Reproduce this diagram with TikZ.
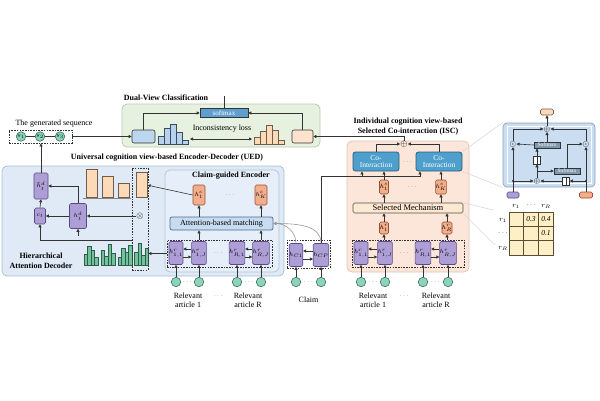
\documentclass[tikz,border=0pt]{standalone}
\usepackage{fontspec}
\setmainfont{Liberation Serif}
\usetikzlibrary{arrows.meta,calc}
\definecolor{linec}{HTML}{333333}
\definecolor{purpf}{HTML}{AD9FD6}
\definecolor{purpd}{HTML}{5B4A8A}
\definecolor{tealf}{HTML}{8CD3BC}
\definecolor{teald}{HTML}{3C7062}
\definecolor{uedf}{HTML}{DFEAF6}
\definecolor{uedd}{HTML}{A9BDD2}
\definecolor{cgf}{HTML}{E6EFF9}
\definecolor{cgd}{HTML}{B3C4D6}
\definecolor{orgf}{HTML}{F2AD8B}
\definecolor{orgd}{HTML}{9C4F30}
\definecolor{obarf}{HTML}{FCDAB8}
\definecolor{obard}{HTML}{6E5C4C}
\definecolor{gbarf}{HTML}{72C29D}
\definecolor{gbard}{HTML}{2E5E48}
\definecolor{bbarf}{HTML}{B8D1ED}
\definecolor{bbard}{HTML}{3A4B5E}
\definecolor{attf}{HTML}{C7DBF1}
\definecolor{attd}{HTML}{4C6C8C}
\definecolor{cif}{HTML}{4E9FCC}
\definecolor{cid}{HTML}{2D5C7E}
\definecolor{smmf}{HTML}{FDE8D4}
\definecolor{smmd}{HTML}{5E4C3C}
\definecolor{iscf}{HTML}{FBE6D9}
\definecolor{iscd}{HTML}{E0C3B2}
\definecolor{dvf}{HTML}{E7F1E0}
\definecolor{dvd}{HTML}{B5C8AB}
\definecolor{softf}{HTML}{5E9FD0}
\definecolor{dvlf}{HTML}{BDD6F0}
\definecolor{dvrf}{HTML}{FDE3CE}
\definecolor{pnlf}{HTML}{CADDF1}
\definecolor{pnld}{HTML}{8BA1BA}
\definecolor{psmf}{HTML}{7F97AF}
\definecolor{matf}{HTML}{FDEFC6}
\definecolor{matd}{HTML}{5C4C32}
\definecolor{zoomc}{HTML}{D8D8D8}
\begin{document}
\begin{tikzpicture}[x=1pt,y=-1pt,
  ln/.style={draw=linec, line width=0.6pt},
  arr/.style={ln, -{Triangle[length=3pt,width=3pt]}},
  darr/.style={ln, {Triangle[length=3pt,width=3pt]}-{Triangle[length=3pt,width=3pt]}},
  pbx/.style={draw=purpd, fill=purpf, rounded corners=1.5pt, minimum width=13pt, minimum height=23pt, inner sep=0pt, line width=0.6pt, font=\fontsize{6.5}{7}\selectfont},
  obx/.style={draw=orgd, fill=orgf, rounded corners=1.5pt, inner sep=0pt, line width=0.6pt, font=\fontsize{6}{6.5}\selectfont},
  tc/.style={circle, draw=teald, fill=tealf, minimum size=9.5pt, inner sep=0pt, line width=0.6pt},
  dbx/.style={draw=linec, dash pattern=on 1.6pt off 1.1pt, line width=0.7pt, inner sep=0pt},
  lbl/.style={font=\fontsize{8}{9}\selectfont, align=center, inner sep=0pt},
  ttl/.style={font=\bfseries\fontsize{8}{10}\selectfont, align=center, inner sep=0pt},
  dots/.style={font=\fontsize{6}{6}\selectfont, inner sep=0pt, text=linec!80},
  obar/.style={draw=obard, fill=obarf, line width=0.6pt, inner sep=0pt, anchor=south west},
  gbar/.style={draw=gbard, fill=gbarf, line width=0.4pt},
  bbar/.style={draw=bbard, fill=bbarf, line width=0.5pt},
  hbar/.style={draw=obard, fill=obarf, line width=0.5pt},
  bg/.style={rounded corners=5pt, inner sep=0pt, line width=0.7pt},
  zl/.style={draw=zoomc, line width=0.6pt},
  sym/.style={inner sep=0pt, font=\fontsize{9}{9}\selectfont},
  psm/.style={draw=linec, fill=psmf, minimum width=26pt, minimum height=6.5pt, inner sep=0pt, font=\fontsize{5.5}{5.5}\selectfont, text=white, line width=0.5pt},
  vbx/.style={draw=linec, fill=white, minimum width=7pt, minimum height=8pt, inner sep=0pt, line width=0.5pt,
     path picture={\draw[linec, line width=0.5pt] (path picture bounding box.north) -- (path picture bounding box.south);}},
  mlbl/.style={inner sep=0pt, font=\fontsize{7.5}{8}\selectfont},
  cibx/.style={draw=cid, fill=cif, rounded corners=2.5pt, minimum width=46pt, minimum height=19pt, inner sep=0pt, line width=0.8pt, align=center, text=white, font=\fontsize{7.5}{7.5}\selectfont},
]
\useasboundingbox (0,0) rectangle (600,400);

% ================= backgrounds
\node[bg, draw=dvd, fill=dvf, minimum width=198pt, minimum height=43pt] (dv) at (221,125.5) {};
\node[bg, draw=uedd, fill=uedf, minimum width=282pt, minimum height=110pt] (ued) at (143,221) {};
\node[bg, draw=cgd, fill=cgf, minimum width=114pt, minimum height=102pt] (cge) at (222,221) {};
\node[bg, draw=iscd, fill=iscf, minimum width=122pt, minimum height=131pt] (isc) at (408,206.5) {};
\node[bg, draw=pnld, fill=pnlf, rounded corners=4pt, minimum width=92pt, minimum height=64pt] (pnl) at (549,155) {};
\node[draw=white, line width=0.8pt, inner sep=0pt, minimum width=84pt, minimum height=57pt] (pnlin) at (549,155) {};

% ================= titles
\node[ttl] (dvt) at (166,98) {Dual-View Classification};
\node[ttl] (uedt) at (167,158) {Universal cognition view-based Encoder-Decoder (UED)};
\node[ttl] (cget) at (231,176) {Claim-guided Encoder};
\node[ttl] (isct) at (408,127) {Individual cognition view-based\\Selected Co-interaction (ISC)};
\node[ttl] (hadt) at (41,261) {Hierarchical\\Attention Decoder};

% ================= generated sequence
\node[lbl] (gent) at (54,124) {The generated sequence};
\node[dbx, minimum width=63pt, minimum height=13pt] (genb) at (40.5,136.5) {};
\node[tc, minimum size=9.5pt] (g1) at (21,136.5) {\fontsize{4}{4}\selectfont$y_1$};
\node[tc, minimum size=9.5pt] (g2) at (40,136.5) {\fontsize{4}{4}\selectfont$y_2$};
\node[tc, minimum size=9.5pt] (g3) at (60,136.5) {\fontsize{4}{4}\selectfont$y_3$};
\draw[ln] (g1) -- (g2);
\draw[ln] (g2) -- (g3);

% ================= dual-view classification
\node[draw=linec, fill=dvlf, rounded corners=2pt, minimum width=23pt, minimum height=13pt, inner sep=0pt, line width=0.6pt] (dvl) at (143.5,136.5) {};
\node[draw=linec, fill=dvrf, rounded corners=2pt, minimum width=21pt, minimum height=13pt, inner sep=0pt, line width=0.6pt] (dvr) at (302.5,136.5) {};
\node[draw=linec, fill=softf, minimum width=48pt, minimum height=8.5pt, inner sep=0pt, line width=0.6pt, text=white, font=\fontsize{7}{7}\selectfont] (soft) at (224,113) {softmax};
\node[lbl] (incl) at (222,128.5) {Inconsistency loss};
\foreach \h [count=\i from 0] in {8,16,20,12,4} {\draw[bbar] ({158+6*\i},144) rectangle ++(6,-\h);}
\foreach \h [count=\i from 0] in {7,13,19,14,4} {\draw[hbar] ({254+6*\i},144) rectangle ++(6,-\h);}
\coordinate (bhr) at (190,139);
\coordinate (ohl) at (252,139);
\draw[darr] (bhr) -- (ohl);
\draw[arr] (genb.east) -- (dvl.west);
\draw[arr] (dvl.north) |- (soft.west);
\draw[arr] (dvr.north) |- (soft.east);
\coordinate (dvo) at (224,96);
\draw[ln] (soft.north) -- (dvo);

% ================= UED: decoder part
\node[obar, minimum width=11pt, minimum height=28pt] (ob1) at (86,198) {};
\node[obar, minimum width=11pt, minimum height=21pt] (ob2) at (102,198) {};
\node[obar, minimum width=11pt, minimum height=14pt] (ob3) at (118,198) {};
\node[obar, minimum width=11pt, minimum height=25pt] (ob4) at (136,198) {};
\draw[ln, draw=linec!60] (83,198) -- (131,198);
\foreach \h [count=\i from 0] in {11,19,15,8} {\draw[gbar] ({84+3.5*\i},265) rectangle ++(3.2,-\h);}
\foreach \h [count=\i from 0] in {15,9,21,12} {\draw[gbar] ({101+3.5*\i},265) rectangle ++(3.2,-\h);}
\foreach \h [count=\i from 0] in {8,17,13,20} {\draw[gbar] ({118+3.5*\i},265) rectangle ++(3.2,-\h);}
\foreach \h [count=\i from 0] in {13,22,10,17} {\draw[gbar] ({134.5+3.5*\i},265) rectangle ++(3.2,-\h);}
\node[dbx, minimum width=16pt, minimum height=102pt] (col) at (140,219) {};
\node[sym] (otm) at (140,216) {$\otimes$};
\node[pbx, minimum width=17pt, minimum height=25pt] (hdt) at (78,216) {$h^{d}_{t}$};
\node[pbx, minimum width=11pt, minimum height=16pt] (ct) at (40,216) {$c_t$};
\node[pbx, minimum width=14pt, minimum height=26pt] (htd) at (41,186) {$\tilde{h}^{d}_{t}$};
\draw[arr] (otm.west) -- (hdt.east);
\draw[arr] (hdt.west) -- (ct.east);
\draw[arr] (hdt.north) |- (htd.east);
\draw[arr] (ct.north) -- (htd.south);
\draw[arr] (htd.north) -- (htd.north |- genb.south);
\coordinate (hdin) at (78,236);
\draw[arr] (hdin) -- (hdt.south);
\coordinate (ctin) at (132,240);
\draw[arr] (ctin) -| (ct.south);

% ================= UED: claim-guided encoder
\node[obx, minimum width=12pt, minimum height=20pt] (hc1) at (199,195) {$h^{c}_{1}$};
\node[obx, minimum width=12pt, minimum height=20pt] (hcK) at (261,195) {$h^{c}_{K}$};
\node[dots] (hcd) at (230,195) {$\cdots$};
\node[draw=attd, fill=attf, rounded corners=2pt, minimum width=103pt, minimum height=13pt, inner sep=0pt, line width=0.7pt, font=\fontsize{8}{8}\selectfont] (attn) at (221.5,223.5) {Attention-based matching};
\draw[arr] (hc1.south |- attn.north) -- (hc1.south);
\draw[arr] (hcK.south |- attn.north) -- (hcK.south);
\node[dbx, minimum width=105pt, minimum height=27pt] (hrb) at (219.5,253.5) {};
\node[pbx] (u11) at (176,253) {$h^{r}_{1,1}$};
\node[pbx] (u1J) at (199,253) {$h^{r}_{1,J}$};
\node[pbx] (uR1) at (237,253) {$h^{r}_{R,1}$};
\node[pbx] (uRJ) at (261,253) {$h^{r}_{R,J}$};
\node[dots] (ud) at (218,253) {$\cdots$};
\draw[arr] ($(u1J.west)+(0,-4)$) -- ($(u11.east)+(0,-4)$);
\draw[arr] ($(u11.east)+(0,4)$) -- ($(u1J.west)+(0,4)$);
\draw[arr] ($(uRJ.west)+(0,-4)$) -- ($(uR1.east)+(0,-4)$);
\draw[arr] ($(uR1.east)+(0,4)$) -- ($(uRJ.west)+(0,4)$);
\draw[arr] (u1J.north |- hrb.north) -- (u1J.north |- attn.south);
\draw[arr] (uRJ.north |- hrb.north) -- (uRJ.north |- attn.south);
\draw[arr] (hrb.west) -- (col.east |- hrb.west);
\draw[arr] (hc1.west) -- (ob4.east);
\node[tc] (a11) at (176,282) {};
\node[tc] (a1J) at (199,282) {};
\node[tc] (aR1) at (237,282) {};
\node[tc] (aRJ) at (261,282) {};
\node[dots] (ad1) at (187.5,282) {$\cdots$};
\node[dots] (ad2) at (249,282) {$\cdots$};
\foreach \a/\b in {a11/u11,a1J/u1J,aR1/uR1,aRJ/uRJ} {\draw[arr] (\a) -- (\b);}
\node[lbl] (rl1) at (188,300) {Relevant\\article 1};
\node[dots] (rld) at (218,296) {$\cdots$};
\node[lbl] (rlR) at (248,300) {Relevant\\article R};

% ================= claim
\node[dbx, minimum width=43pt, minimum height=28pt] (clb) at (308.5,254) {};
\node[pbx] (c1) at (296,255) {$h_{C1}$};
\node[pbx] (cP) at (321,255) {$h_{CP}$};
\draw[arr] ($(cP.west)+(0,-4)$) -- ($(c1.east)+(0,-4)$);
\draw[arr] ($(c1.east)+(0,4)$) -- ($(cP.west)+(0,4)$);
\node[tc] (ca1) at (296,282) {};
\node[tc] (caP) at (321,282) {};
\node[dots] (cad) at (308.5,282) {$\cdots$};
\draw[arr] (ca1) -- (c1);
\draw[arr] (caP) -- (cP);
\node[lbl] (clt) at (308.5,300) {Claim};
\draw[arr, draw=gray!80] (c1.north) .. controls (296,232) and (286,223.5) .. (attn.east);
\draw[arr, draw=gray!80] (cP.north) .. controls (321,226) and (300,223.5) .. (attn.east);

% ================= ISC
\node[sym] (oplus) at (404,144) {$\oplus$};
\node[cibx] (ci1) at (376,161.5) {Co-\\Interaction};
\node[cibx] (ci2) at (439,161.5) {Co-\\Interaction};
\node[dots] (cidd) at (407.5,162) {$\cdots$};
\draw[arr] (ci1.north) |- (oplus.west);
\draw[arr] (ci2.north) |- (oplus.east);
\draw[arr] (oplus.north) |- (dvr.east);
\node[obx, minimum width=9pt, minimum height=14pt] (hs1) at (384,187) {$h^{s}_{1}$};
\node[obx, minimum width=9pt, minimum height=14pt] (hsK) at (441,187) {$h^{s}_{K}$};
\node[dots] (hsd) at (412,187) {$\cdots$};
\node[draw=smmd, fill=smmf, rounded corners=1.5pt, minimum width=110pt, minimum height=10pt, inner sep=0pt, line width=0.6pt, font=\fontsize{8.5}{8.5}\selectfont] (sm) at (408,208) {Selected Mechanism};
\draw[arr] (hs1.north) -- (hs1.north |- ci1.south);
\draw[arr] (hsK.north) -- (hsK.north |- ci2.south);
\draw[arr] (hs1.south |- sm.north) -- (hs1.south);
\draw[arr] (hsK.south |- sm.north) -- (hsK.south);
\node[obx, minimum width=9pt, minimum height=12pt] (hr1) at (384,228) {$h^{r}_{1}$};
\node[obx, minimum width=9pt, minimum height=12pt] (hrR) at (447,228) {$h^{r}_{R}$};
\draw[arr] (hr1.north) -- (hr1.north |- sm.south);
\draw[arr] (hrR.north) -- (hrR.north |- sm.south);
\node[dbx, minimum width=112pt, minimum height=27pt] (isd) at (408,253.5) {};
\draw[arr] (hr1.south |- isd.north) -- (hr1.south);
\draw[arr] (hrR.south |- isd.north) -- (hrR.south);
\node[pbx] (v11) at (361,253) {$h^{r}_{1,1}$};
\node[pbx] (v1J) at (385,253) {$h^{r}_{1,J}$};
\node[pbx] (vR1) at (423,253) {$h^{r}_{R,1}$};
\node[pbx] (vRJ) at (448,253) {$h^{r}_{R,J}$};
\node[dots] (vd) at (404,253) {$\cdots$};
\draw[arr] ($(v1J.west)+(0,-4)$) -- ($(v11.east)+(0,-4)$);
\draw[arr] ($(v11.east)+(0,4)$) -- ($(v1J.west)+(0,4)$);
\draw[arr] ($(vRJ.west)+(0,-4)$) -- ($(vR1.east)+(0,-4)$);
\draw[arr] ($(vR1.east)+(0,4)$) -- ($(vRJ.west)+(0,4)$);
\node[tc] (b11) at (361,282) {};
\node[tc] (b1J) at (385,282) {};
\node[tc] (bR1) at (423,282) {};
\node[tc] (bRJ) at (448,282) {};
\node[dots] (bd1) at (373,282) {$\cdots$};
\node[dots] (bd2) at (435.5,282) {$\cdots$};
\foreach \a/\b in {b11/v11,b1J/v1J,bR1/vR1,bRJ/vRJ} {\draw[arr] (\a) -- (\b);}
\node[lbl] (sl1) at (373,300) {Relevant\\article 1};
\node[dots] (sld) at (404,296) {$\cdots$};
\node[lbl] (slR) at (436,300) {Relevant\\article R};

% claim -> co-interaction
\coordinate (clturn) at (321,176.5);
\coordinate (ci1in) at ($(ci1.south)+(-14,0)$);
\coordinate (ci2in) at ($(ci2.south)+(-19,0)$);
\draw[ln] (cP.north) -- (clturn) -- (ci2in |- clturn);
\draw[arr] (ci1in |- clturn) -- (ci1in);
\draw[arr] (ci2in |- clturn) -- (ci2in);

% ================= zoom lines
\coordinate (zm1) at (493,210);
\coordinate (zm2) at (495,245);
\draw[zl] (ci2.north east) -- (pnl.north west);
\draw[zl] (ci2.south east) -- (pnl.south west);
\draw[zl] (sm.north east) -- (zm1);
\draw[zl] (sm.south east) -- (zm2);

% ================= right panel
\node[obx, fill=obarf, draw=obard, minimum width=13pt, minimum height=6pt] (orT) at (547,112) {};
\node[sym, font=\fontsize{8}{8}\selectfont] (op) at (547,129) {$\oplus$};
\node[sym, font=\fontsize{8}{8}\selectfont] (odL) at (513,144) {$\odot$};
\node[sym, font=\fontsize{8}{8}\selectfont] (odR) at (586,144) {$\odot$};
\node[psm] (sm1) at (547,145) {Softmax};
\node[vbx] (vb1) at (537,160) {};
\node[psm] (sm2) at (567,171) {Softmax};
\node[sym, font=\fontsize{8}{8}\selectfont] (odB) at (537,181) {$\oplus$};
\node[vbx] (vb2) at (566,181) {};
\node[pbx, minimum width=12pt, minimum height=6pt] (pL) at (513,195) {};
\node[obx, fill=orgf, minimum width=13pt, minimum height=6pt] (oR) at (586,195) {};
\draw[arr] (op.north) -- (orT.south);
\draw[arr] (odL.north) |- (op.west);
\draw[arr] (odR.north) |- (op.east);
\draw[arr] (sm1.north) -- (op.south);
\draw[arr] (sm1.west) -- (odL.east);
\draw[arr] (vb1.north) -- (vb1.north |- sm1.south);
\draw[arr] (odB.north) -- (vb1.south);
\coordinate (brn) at (vb1.south |- sm2.west);
\draw[arr] (brn) -- (sm2.west);
\draw[arr] (sm2.north) |- (odR.west);
\draw[arr] (pL.north) -- (odL.south);
\draw[arr] (oR.north) -- (odR.south);
\coordinate (jL) at (odL |- odB);
\coordinate (jR) at (odR |- vb2);
\fill[linec] (jL) circle (1.2pt);
\fill[linec] (jR) circle (1.2pt);
\draw[arr] (jL) -- (odB.west);
\draw[arr] (jR) -- (vb2.east);
\draw[arr] (vb2.west) -- (odB.east);

% ================= matrix
\node[draw=matd, fill=matf, line width=0.9pt, minimum width=44pt, minimum height=43pt, inner sep=0pt] (mat) at (531,233.5) {};
\draw[draw=matd, line width=0.9pt] (523.67,212) -- (523.67,255) (538.33,212) -- (538.33,255)
   (509,226.33) -- (553,226.33) (509,240.67) -- (553,240.67);
\node[mlbl] (mc1) at (516,206) {$r_1$};
\node[mlbl] (mcd) at (531,205) {$\cdots$};
\node[mlbl] (mcR) at (546,206) {$r_R$};
\node[mlbl] (mr1) at (503,220) {$r_1$};
\node[mlbl] (mrd) at (503,233) {$\cdots$};
\node[mlbl] (mrR) at (503,248) {$r_R$};
\node[mlbl] (m03) at (531,219.5) {\textit{0.3}};
\node[mlbl] (m04) at (546,219.5) {\textit{0.4}};
\node[mlbl] (m01) at (546,233.5) {\textit{0.1}};
\end{tikzpicture}
\end{document}
